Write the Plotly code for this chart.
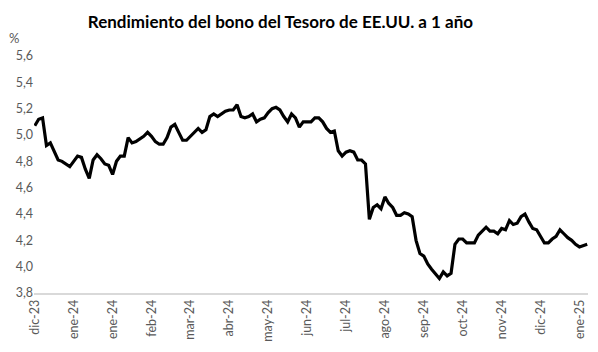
import pandas as pd
import plotly.graph_objects as go

# Sampled every 2nd business day starting 6-Dec-2023
start_date = "2023-12-06"
yield_pct = [
    5.07, 5.12, 5.13, 4.92, 4.94, 4.88, 4.81, 4.80, 4.78, 4.76,
    4.80, 4.84, 4.83, 4.74, 4.67, 4.81, 4.85, 4.82, 4.78, 4.77,
    4.70, 4.80, 4.84, 4.84, 4.98, 4.94, 4.95, 4.97, 4.99, 5.02,
    4.99, 4.95, 4.93, 4.93, 4.98, 5.06, 5.08, 5.02, 4.96, 4.96,
    4.99, 5.02, 5.05, 5.02, 5.04, 5.14, 5.16, 5.14, 5.16, 5.18,
    5.19, 5.19, 5.23, 5.14, 5.13, 5.14, 5.16, 5.10, 5.12, 5.13,
    5.17, 5.20, 5.21, 5.19, 5.14, 5.10, 5.16, 5.13, 5.06, 5.10,
    5.10, 5.10, 5.13, 5.13, 5.10, 5.05, 5.02, 5.03, 4.88, 4.84,
    4.87, 4.88, 4.87, 4.81, 4.81, 4.78, 4.36, 4.45, 4.47, 4.44,
    4.53, 4.48, 4.45, 4.39, 4.39, 4.41, 4.40, 4.38, 4.20, 4.10,
    4.08, 4.02, 3.98, 3.94, 3.91, 3.96, 3.93, 3.95, 4.17, 4.21,
    4.21, 4.18, 4.18, 4.18, 4.24, 4.27, 4.30, 4.27, 4.27, 4.25,
    4.29, 4.28, 4.35, 4.32, 4.33, 4.38, 4.40, 4.34, 4.29, 4.28,
    4.23, 4.18, 4.18, 4.21, 4.23, 4.28, 4.25, 4.22, 4.20, 4.17,
    4.15, 4.16, 4.17,
]
month_abbr = ["ene", "feb", "mar", "abr", "may", "jun", "jul", "ago", "sep", "oct", "nov", "dic"]
y_ticks = [3.8, 4.0, 4.2, 4.4, 4.6, 4.8, 5.0, 5.2, 5.4, 5.6]

bdays = pd.bdate_range(start=start_date, periods=2 * len(yield_pct))[::2]
dates = [d.strftime("%Y-%m-%d") for d in bdays]
tick_idx = list(range(0, len(dates), 10))
tickvals = [dates[i] for i in tick_idx]
ticktext = [f"{month_abbr[bdays[i].month - 1]}-{bdays[i].strftime('%y')}" for i in tick_idx]

fig = go.Figure(go.Scatter(
    x=dates, y=yield_pct, mode="lines",
    line=dict(color="black", width=3.2),
    hoverinfo="skip",
))

font_family = "Lato, 'Open Sans', sans-serif"
fig.update_layout(
    width=598, height=352,
    margin=dict(l=34, r=10, t=56, b=55.5),
    paper_bgcolor="white", plot_bgcolor="white",
    separators=",.",
    showlegend=False,
    title=dict(text="<b>Rendimiento del bono del Tesoro de EE.UU. a 1 año</b>",
               x=0.469, xanchor="center", y=0.937, yanchor="middle",
               font=dict(family=font_family, size=17, color="black")),
    font=dict(family=font_family, size=12.5, color="#595959"),
)
fig.update_xaxes(
    type="category", range=[-0.2, len(dates) - 0.8],
    tickmode="array", tickvals=tickvals, ticktext=ticktext,
    tickangle=-90, showgrid=False, showline=True, linecolor="#d9d9d9", linewidth=1.5,
    ticks="", zeroline=False,
)
fig.update_yaxes(
    range=[3.8, 5.6], tickmode="array", tickvals=y_ticks, tickformat=".1f",
    showgrid=False, showline=False, zeroline=False, ticks="",
)
fig.add_annotation(text="%", xref="paper", yref="paper", x=-0.037, y=1.075,
                   xanchor="center", yanchor="middle", showarrow=False,
                   font=dict(family=font_family, size=13, color="#595959"))

fig.write_html("out.html")
